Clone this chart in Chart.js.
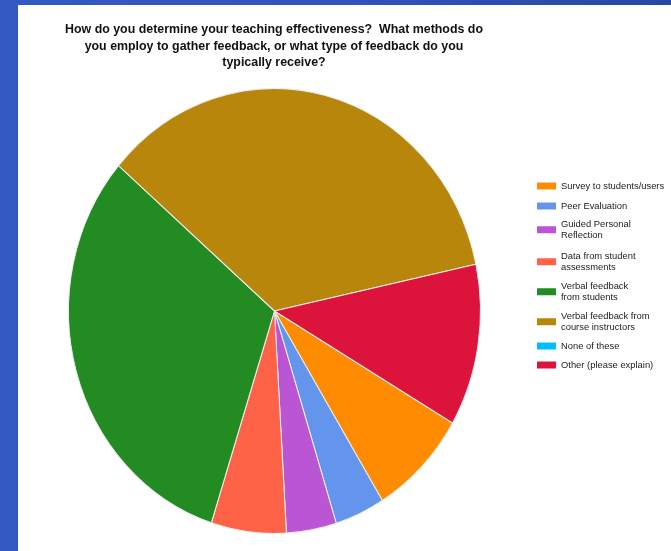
<!DOCTYPE html>
<html>
<head>
<meta charset="utf-8">
<script src="https://cdn.jsdelivr.net/npm/chart.js@4.4.1/dist/chart.umd.min.js"></script>
<style>
  html, body { margin: 0; padding: 0; }
  body {
    width: 671px; height: 551px; overflow: hidden; position: relative;
    background: linear-gradient(90deg, #3459c2 0%, #3154b9 50%, #2846a6 100%);
  }
  #wrap { position: absolute; left: 18px; top: 5px; width: 653px; height: 546px; background: #fff; }
</style>
</head>
<body>
<div id="wrap"><canvas id="pie" width="653" height="546"></canvas></div>
<script>
// Chart data
const titleLines = [
  "How do you determine your teaching effectiveness?  What methods do",
  "you employ to gather feedback, or what type of feedback do you",
  "typically receive?"
];
const categories = [
  ["Survey to students/users"],
  ["Peer Evaluation"],
  ["Guided Personal", "Reflection"],
  ["Data from student", "assessments"],
  ["Verbal feedback", "from students"],
  ["Verbal feedback from", "course instructors"],
  ["None of these"],
  ["Other (please explain)"]
];
const responses = [4, 2, 2, 3, 16, 18, 0, 6];
const colors = ["#ff8c00", "#6495ed", "#ba55d3", "#ff6347", "#228b22", "#b8860b", "#00bfff", "#dc143c"];

// stretch the pie a little vertically, like the original
const stretchY = 1.08;
const ellipse = {
  id: "ellipse",
  beforeDatasetsDraw(chart) {
    const arc = chart.getDatasetMeta(0).data[0];
    const ctx = chart.ctx;
    ctx.save();
    ctx.translate(arc.x, arc.y);
    ctx.scale(1, stretchY);
    ctx.translate(-arc.x, -arc.y);
  },
  afterDatasetsDraw(chart) {
    chart.ctx.restore();
  }
};

// title text
const titleText = {
  id: "titleText",
  afterDraw(chart) {
    const ctx = chart.ctx;
    ctx.save();
    ctx.font = "bold 12.4px 'Liberation Sans', Arial, sans-serif";
    ctx.fillStyle = "#111";
    ctx.textAlign = "center";
    ctx.textBaseline = "middle";
    titleLines.forEach((t, i) => ctx.fillText(t, 256, 25 + i * 16.5));
    ctx.restore();
  }
};

// legend on the right
const sideLegend = {
  id: "sideLegend",
  afterDraw(chart) {
    const ctx = chart.ctx;
    const rowY = [181, 201, 219, 251, 281, 311, 341, 360];
    ctx.save();
    ctx.font = "9.4px 'Liberation Sans', Arial, sans-serif";
    ctx.textBaseline = "middle";
    chart.data.labels.forEach((lines, i) => {
      const y0 = rowY[i];
      const mid = y0 + (lines.length - 1) * 11.5 / 2;
      ctx.fillStyle = colors[i];
      ctx.fillRect(519, mid - 3.5, 19, 7);
      ctx.fillStyle = "#222";
      lines.forEach((l, j) => ctx.fillText(l, 543, y0 + j * 11.5));
    });
    ctx.restore();
  }
};

new Chart(document.getElementById("pie"), {
  type: "pie",
  data: {
    labels: categories,
    datasets: [{
      data: responses,
      backgroundColor: colors,
      borderColor: "#ececec",
      borderWidth: 1
    }]
  },
  options: {
    responsive: false,
    animation: false,
    rotation: 120.2,
    layout: { padding: { left: 50, right: 190, top: 99.5, bottom: 33.5 } },
    plugins: {
      legend: { display: false },
      title: { display: false },
      tooltip: { enabled: false }
    }
  },
  plugins: [ellipse, titleText, sideLegend]
});
</script>
</body>
</html>
